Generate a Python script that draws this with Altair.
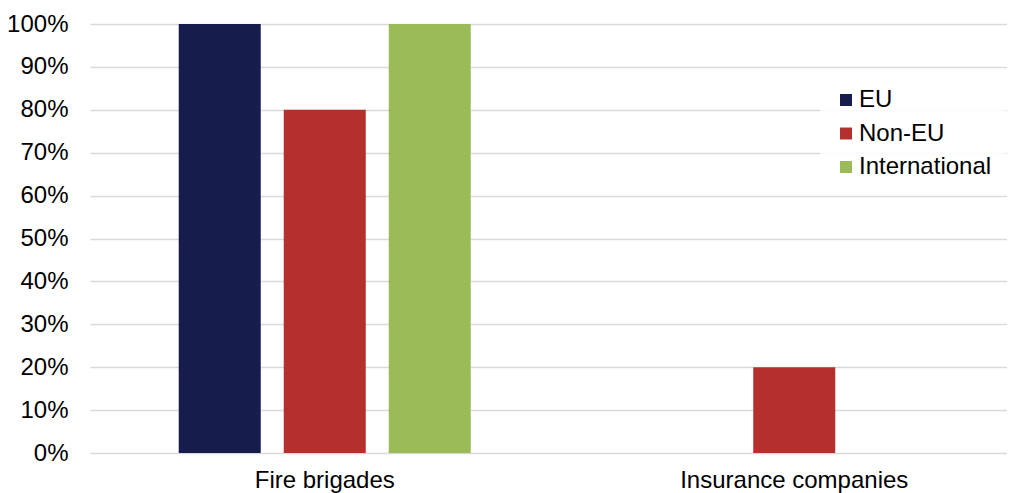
import altair as alt
import pandas as pd

categories = ["Fire brigades", "Insurance companies"]
series = ["EU", "Non-EU", "International"]
eu = [1.00, 0.00]
non_eu = [0.80, 0.20]
international = [1.00, 0.00]
colors = ["#161D4D", "#B5302C", "#9BBB59"]

rows = []
for i, c in enumerate(categories):
    for s, vals in zip(series, [eu, non_eu, international]):
        rows.append({"category": c, "series": s, "value": vals[i]})
df = pd.DataFrame(rows)

FONT = "Liberation Sans"
FS = 24

chart = alt.Chart(df).mark_bar().encode(
    x=alt.X("category:N", sort=categories,
            scale=alt.Scale(range=[0, 939], paddingInner=0, paddingOuter=0),
            axis=alt.Axis(title=None, labelAngle=0, ticks=False, domain=False,
                          labelFontSize=FS, labelPadding=15, labelColor="#000000",
                          labelFont=FONT, labelLimit=400)),
    xOffset=alt.XOffset("series:N", sort=series,
                        scale=alt.Scale(paddingInner=0.219, paddingOuter=0.845)),
    y=alt.Y("value:Q", scale=alt.Scale(domain=[0, 1], nice=False),
            axis=alt.Axis(title=None, format=".0%", values=[i / 10 for i in range(11)],
                          ticks=False, domain=False, labelFontSize=FS, labelPadding=22,
                          labelColor="#000000", labelFont=FONT,
                          gridColor="#D9D9D9", gridWidth=1.5)),
    color=alt.Color("series:N", sort=series,
                    scale=alt.Scale(domain=series, range=colors),
                    legend=alt.Legend(title=None, orient="none", legendX=730, legendY=50,
                                      symbolType="square", symbolSize=144,
                                      symbolStrokeWidth=0, labelFontSize=FS,
                                      labelFont=FONT, labelColor="#000000",
                                      rowPadding=9.5, labelOffset=1, labelLimit=300,
                                      fillColor="rgba(255,255,255,0.85)",
                                      padding=14, symbolOpacity=1)),
).properties(
    width=917, height=429,
    autosize=alt.AutoSizeParams(type="none"),
    padding={"left": 82, "top": 16, "right": 0, "bottom": 40},
).configure_view(stroke=None)

chart.save("out.html", embed_options={"renderer": "svg", "actions": False})
